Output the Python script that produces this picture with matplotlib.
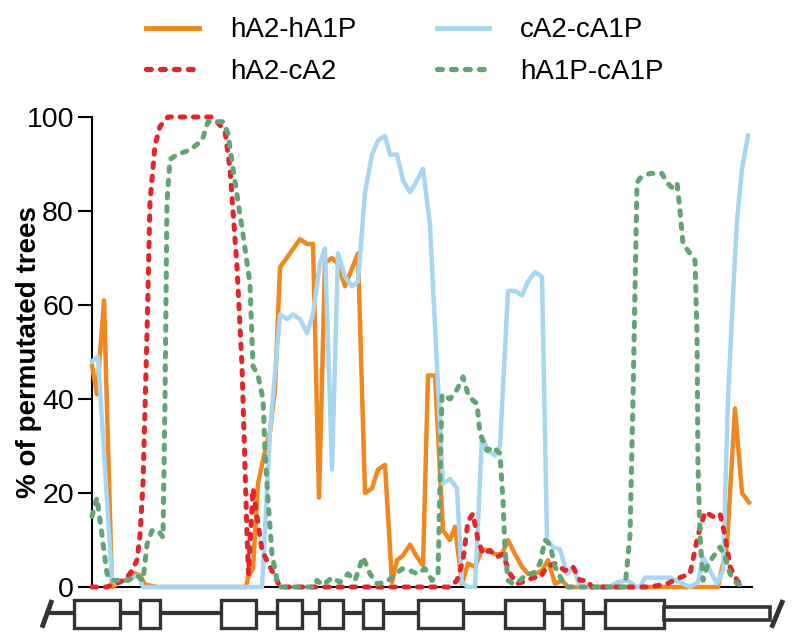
import matplotlib
matplotlib.use("Agg")
import matplotlib.pyplot as plt
from matplotlib.patches import Rectangle
from matplotlib.lines import Line2D

plt.rcParams["font.family"] = ["Liberation Sans", "DejaVu Sans"]

# window position along the locus (arbitrary units) and % of permutated trees
ha2_ha1p_x = [0, 5, 12, 20, 24, 33, 41, 48, 53, 65, 154, 156, 161, 166, 172, 178, 183, 188, 208, 215,
              221, 227, 233, 240, 245, 253, 266, 273, 280, 286, 293, 300, 305, 311, 318, 325, 331, 336,
              343, 351, 358, 363, 370, 376, 383, 390, 396, 403, 410, 416, 423, 430, 436, 443, 450, 456,
              463, 470, 476, 626, 635, 643, 650, 657]
ha2_ha1p_y = [47, 41, 61, 0, 0.5, 1.5, 3, 2.5, 0.5, 0, 0, 2, 4, 22, 28, 33, 42, 68, 74, 73,
              73, 19, 69, 70, 69, 64, 71, 20, 21, 25, 26, 1, 5.7, 6.7, 9, 6.4, 4.6, 45,
              45, 12, 10, 12.8, 0.7, 5, 4.3, 8, 7.8, 7, 7, 10, 7, 4.3, 2.8, 2.8, 3.5, 5.7,
              0.7, 1.4, 0, 0, 9, 38, 20, 18]

ca2_ca1p_x = [0, 6, 20, 25, 31, 41, 46, 51, 170, 178, 188, 195, 201, 208, 215, 221, 228, 233, 240, 246,
              253, 260, 266, 273, 280, 286, 293, 298, 305, 311, 318, 325, 331, 338, 345, 351, 358, 365,
              370, 376, 383, 390, 396, 403, 408, 416, 423, 430, 436, 443, 450, 455, 461, 468, 475, 481,
              488, 518, 525, 535, 545, 548, 553, 578, 588, 598, 606, 611, 618, 625, 631, 636, 641, 645,
              650, 656]
ca2_ca1p_y = [48, 49, 1.4, 0.7, 1.4, 2, 2.5, 0, 0, 33, 58, 57, 58, 57, 54, 58, 69, 72, 25, 71,
              66, 64, 65, 84, 92, 95, 96, 92, 92, 86.5, 84, 86.5, 89, 77, 47, 22, 23, 21,
              1, 0, 0, 32, 29, 28, 30, 63, 63, 62, 65, 67, 66, 10, 8.5, 8, 2.8, 4.3,
              0, 0, 1, 1.4, 0, 0, 2, 2, 1, 0, 1, 6.4, 3.5, 0.7, 3.5, 40, 62, 78,
              89, 96]

ha2_ca2_x = [0, 15, 31, 38, 45, 48, 51, 55, 58, 63, 68, 76, 121, 133, 138, 145, 150, 153, 155, 156.5,
             161, 165, 170, 178, 185, 188, 358, 365, 371, 376, 381, 386, 391, 398, 405, 411, 418, 425,
             435, 441, 448, 455, 463, 473, 481, 488, 495, 500, 558, 575, 588, 598, 606, 613, 621, 628,
             633, 638, 645, 651]
ha2_ca2_y = [0, 0, 1.4, 2.8, 5.7, 11, 22, 54, 82, 94, 98, 100, 100, 97, 89, 68, 47, 25.5, 11, 2.8,
             21, 15, 7.8, 4.3, 1.4, 0, 0, 1.4, 5.7, 14, 15.6, 10, 7, 7.8, 6.4, 7, 2.8, 0.7,
             1.4, 2, 2, 4.3, 5, 3.5, 4.3, 1.4, 1.4, 0, 0, 0.7, 2, 2.8, 11, 16, 15, 15.6,
             11, 4.3, 1.4, 0]

ha1p_ca1p_x = [0, 5, 10, 15, 20, 28, 36, 45, 51, 55, 60, 66, 71, 73, 75, 78, 85, 98, 110, 116,
               131, 136, 141, 146, 151, 158, 161, 166, 171, 173, 176, 180, 185, 188, 223, 225, 231, 240,
               248, 256, 263, 271, 278, 285, 293, 300, 310, 318, 325, 333, 340, 346, 350, 358, 365,
               371, 376, 381, 385, 388, 395, 401, 408, 411, 413, 416, 421, 428, 435, 441, 448, 453,
               458, 463, 470, 475, 533, 538, 541, 545, 548, 558, 570, 575, 580, 585, 588, 591, 598,
               603, 605, 606, 608, 611, 615, 621, 628, 633, 638, 645, 655]
ha1p_ca1p_y = [15, 19, 11, 2.8, 1.4, 1.4, 1.4, 2.5, 1.4, 9, 12, 12, 10.6, 40, 82, 91, 92, 93, 95, 99,
               99, 96.5, 89, 82, 75, 64.5, 47, 45, 40, 29, 18.4, 7, 1.4, 0, 0, 1.4, 0.4, 2,
               1, 2.8, 1.4, 6.4, 2.8, 0.7, 1, 2, 3.9, 3.5, 2.8, 3.9, 1.4, 2.8, 41, 40, 42,
               44.7, 41, 39.7, 39, 32.6, 29, 29.8, 28.4, 18.4, 7.8, 1.4, 0.7, 1.4, 2.8, 2.8, 5, 10,
               9, 4.3, 1.4, 0, 0, 11, 40, 86, 87, 88, 88, 86, 85, 86, 80, 73, 71,
               69.5, 54, 25.5, 11, 1.4, 4.3, 6.4, 8.5, 6.4, 2.8, 0.7, 0]

labels = ["hA2-hA1P", "hA2-cA2", "cA2-cA1P", "hA1P-cA1P"]
y_ticks = [0, 20, 40, 60, 80, 100]

# gene model (same position units as the windows)
gene_start, gene_end = -45, 685
exon_starts = [-18, 48, 129, 185, 227, 271, 326, 413, 470, 513]
exon_ends = [28, 68, 164, 210, 251, 291, 371, 452, 491, 572]
utr_start, utr_end = 572, 678

ORANGE = "#f0871f"
BLUE = "#a6d6f2"
RED = "#e2262b"
GREEN = "#62a476"
DARK = "#333333"
DOTS = (0, (0.9, 1.75))

W, H = 793, 637
fig = plt.figure(figsize=(W / 100, H / 100), dpi=100)
ax = fig.add_axes([92 / W, 50 / H, 660 / W, 470 / H])

dot = dict(linestyle=DOTS, dash_capstyle="round", lw=3.6, clip_on=False)
ax.plot(ha2_ha1p_x, ha2_ha1p_y, color=ORANGE, lw=3.2, clip_on=False, zorder=3)
ax.plot(ca2_ca1p_x, ca2_ca1p_y, color=BLUE, lw=3.2, clip_on=False, zorder=3)
ax.plot(ha2_ca2_x, ha2_ca2_y, color=RED, zorder=4, **dot)
ax.plot(ha1p_ca1p_x, ha1p_ca1p_y, color=GREEN, zorder=5, **dot)

ax.set_xlim(0, 660)
ax.set_ylim(0, 100)
ax.set_yticks(y_ticks)
ax.set_xticks([])
for s in ["top", "right"]:
    ax.spines[s].set_visible(False)
ax.spines["left"].set_linewidth(1.5)
ax.spines["bottom"].set_linewidth(1.5)
ax.tick_params(axis="y", length=10, width=1.5, pad=3, labelsize=20.5)
ax.set_ylabel("% of permutated trees", fontsize=20, fontweight="bold")
ax.yaxis.set_label_coords(-50 / 660, 0.5)

handles = [
    Line2D([], [], color=ORANGE, lw=3.5),
    Line2D([], [], color=RED, linestyle=DOTS, dash_capstyle="round", lw=3.8),
    Line2D([], [], color=BLUE, lw=3.5),
    Line2D([], [], color=GREEN, linestyle=DOTS, dash_capstyle="round", lw=3.8),
]
fig.legend(handles, labels, ncol=2, frameon=False, loc="center",
           bbox_to_anchor=(405 / W, 1 - 51 / H), fontsize=20,
           handlelength=1.9, handletextpad=1.1, columnspacing=2.9, labelspacing=0.55,
           borderpad=0, borderaxespad=0)

# gene structure under the plot
gx = fig.add_axes([0, 0, 1, 45 / H])
gx.set_xlim(-92, W - 92)
gx.set_ylim(0, 45)
gx.axis("off")
gx.plot([gene_start, utr_start], [23.7, 23.7], color=DARK, lw=3.0, solid_capstyle="butt", zorder=1)
for a, b in zip(exon_starts, exon_ends):
    gx.add_patch(Rectangle((a, 9.3), b - a, 27.7, facecolor="white", edgecolor=DARK, lw=2.4, zorder=2))
gx.add_patch(Rectangle((utr_start, 17.0), utr_end - utr_start, 13.3, facecolor="white",
                       edgecolor=DARK, lw=2.6, zorder=2))
gx.plot([gene_start - 5, gene_start + 5], [9.3, 37], color=DARK, lw=3.5, solid_capstyle="butt", zorder=3)
gx.plot([gene_end - 5.5, gene_end + 6], [9.3, 37], color=DARK, lw=3.5, solid_capstyle="butt", zorder=3)

fig.savefig("out.png", dpi=100)
